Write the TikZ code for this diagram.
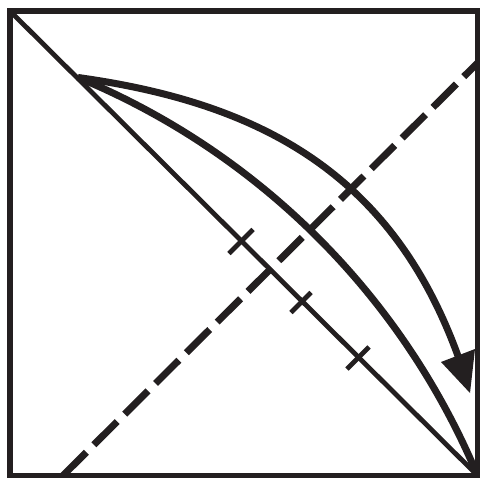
\documentclass[tikz,border=0pt]{standalone}
\usetikzlibrary{calc}
\definecolor{ink}{RGB}{35,31,32}
\begin{document}
\begin{tikzpicture}[x=1pt,y=-1pt,
  frame/.style={draw=ink,line width=5.5pt},
  diag/.style={draw=ink,line width=4.8pt},
  tickmark/.style={draw=ink,line width=4.8pt},
  foldline/.style={draw=ink,line width=7pt,dash pattern=on 33pt off 10.5pt},
  flap/.style={draw=ink,line width=7pt},
  arrowhd/.style={fill=ink}]
\useasboundingbox (0,0) rectangle (480,479);
\coordinate (tl) at (10,11);
\coordinate (tr) at (477.5,11);
\coordinate (bl) at (10,475.5);
\coordinate (br) at (477.5,475.5);
\draw[frame] (tl) -- (tr) -- (br) -- (bl) -- cycle;
% diagonal
\draw[diag] (tl) -- (br);
% valley fold (dashed)
\coordinate (fa) at (63,475.5);
\coordinate (fb) at (477.5,63);
\draw[foldline] (fa) -- (fb);
% ticks on the diagonal
\coordinate (t1) at (241,241.5);
\coordinate (t2) at (301,302.5);
\coordinate (t3) at (358,358);
\draw[tickmark] ($(t1)+(-12,12)$) -- ($(t1)+(12,-12)$);
\draw[tickmark] ($(t2)+(-10,10)$) -- ($(t2)+(10,-10)$);
\draw[tickmark] ($(t3)+(-11,11)$) -- ($(t3)+(11,-11)$);
% flap edge and motion arrow
\coordinate (A) at (78,77.5);
\coordinate (B) at (458,356);
\coordinate (tip) at (470,393);
\draw[flap] (A) .. controls (258,152) and (402,295) .. (br);
\draw[flap] (A) .. controls (266,103.6) and (393,177.4) .. (B);
\fill[arrowhd] (441,362) -- (tip) -- (475,349) -- cycle;
\end{tikzpicture}
\end{document}
